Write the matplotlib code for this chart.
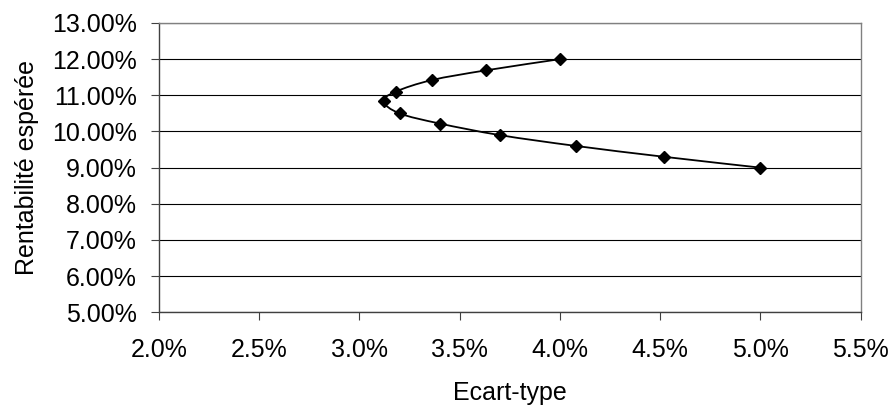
import numpy as np
import matplotlib
matplotlib.use('Agg')
import matplotlib.pyplot as plt
from matplotlib.path import Path
from matplotlib.patches import PathPatch
from matplotlib.ticker import FuncFormatter

# portfolio frontier: standard deviation (%) and expected return (%)
ecart = [5.00, 4.52, 4.08, 3.70, 3.40, 3.20, 3.12, 3.18, 3.36, 3.63, 4.00]
rendement = [9.00, 9.30, 9.60, 9.90, 10.22, 10.50, 10.83, 11.10, 11.42, 11.69, 12.00]

xticks = [2.0, 2.5, 3.0, 3.5, 4.0, 4.5, 5.0, 5.5]
yticks = [5, 6, 7, 8, 9, 10, 11, 12, 13]

plt.rcParams['font.family'] = ['Liberation Sans', 'DejaVu Sans']
plt.rcParams['font.size'] = 18


def smooth_path(x, y):
    # catmull-rom style smoothing like the excel "smoothed line" option
    pts = np.column_stack([x, y])
    verts = [pts[0]]
    codes = [Path.MOVETO]
    n = len(pts)
    for i in range(n - 1):
        p0 = pts[i - 1] if i > 0 else pts[i]
        p1 = pts[i]
        p2 = pts[i + 1]
        p3 = pts[i + 2] if i + 2 < n else pts[i + 1]
        c1 = p1 + (p2 - p0) / 6
        c2 = p2 - (p3 - p1) / 6
        verts += [c1, c2, p2]
        codes += [Path.CURVE4] * 3
    return Path(verts, codes)


fig = plt.figure(figsize=(8.9, 4.09), dpi=100)
ax = fig.add_axes([0.1787, 0.2364, 0.7883, 0.7074])

ax.add_patch(PathPatch(smooth_path(ecart, rendement), fill=False,
                       edgecolor='black', linewidth=1.3, zorder=3))
ax.plot(ecart, rendement, linestyle='none', marker='D', markersize=6.2,
        color='black', zorder=4)

ax.set_xlim(2.0, 5.5)
ax.set_ylim(5, 13)
ax.set_xticks(xticks)
ax.set_yticks(yticks)
ax.xaxis.set_major_formatter(FuncFormatter(lambda v, p: '%.1f%%' % v))
ax.yaxis.set_major_formatter(FuncFormatter(lambda v, p: '%.2f%%' % v))
ax.grid(axis='y', color='black', linewidth=0.8)
ax.set_axisbelow(True)
ax.tick_params(direction='out', length=5.5, width=0.8, color='#404040')
ax.tick_params(axis='x', pad=13)
ax.tick_params(axis='y', pad=10.5)

for s in ['left', 'bottom']:
    ax.spines[s].set_color('#404040')
    ax.spines[s].set_linewidth(1.0)
for s in ['top', 'right']:
    ax.spines[s].set_color('#808080')
    ax.spines[s].set_linewidth(1.0)

ax.set_xlabel('Ecart-type', labelpad=14)
ax.set_ylabel('Rentabilité espérée', labelpad=9)

fig.savefig('out.png', dpi=100)
